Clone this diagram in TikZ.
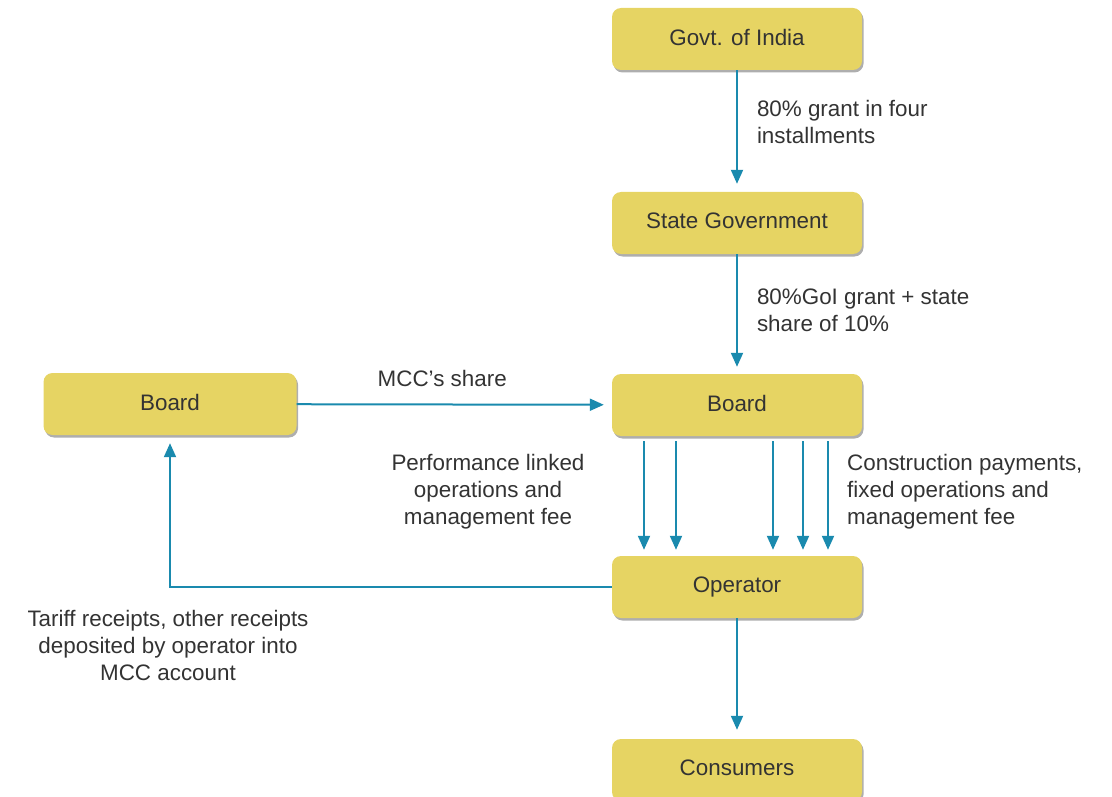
\documentclass[tikz,border=0pt]{standalone}
\usepackage{fontspec}
\setmainfont{Liberation Sans}
\usetikzlibrary{positioning}
\usetikzlibrary{arrows.meta}
\usetikzlibrary{shadows}
\definecolor{boxfill}{HTML}{E6D463}
\definecolor{flowblue}{HTML}{1A8AAE}
\definecolor{textgray}{HTML}{333333}
\tikzset{
        % Yellow boxes
        node_box/.style={rectangle, rounded corners=9pt, fill=boxfill, text=textgray,
            minimum width=250pt, minimum height=62pt, inner sep=0pt, text depth=4pt,
            drop shadow={shadow xshift=1.5pt, shadow yshift=-2.5pt, opacity=0.45, fill=black!70}},
        % Labels along the arrows
        node_label/.style={text=textgray, inner sep=0pt},
        % Money flows
        flow/.style={draw=flowblue, line width=2pt, -{Triangle[length=14pt, width=12pt]}}
}

\begin{document}
\begin{tikzpicture}[
            x=1pt, y=-1pt,
            every node/.style={font=\fontsize{22.4}{27}\selectfont}
        ]
            \useasboundingbox (0,0) rectangle (1112,797);
            \node[node_box] (govt) at (737,39) {Govt. of India};
            \node[node_box] (state) at (737,223) {State Government};
            \node[node_box] (board_right) at (737,405) {Board};
            \node[node_box, minimum width=253pt] (board_left) at (170,404) {Board};
            \node[node_box] (operator) at (737,587) {Operator};
            \node[node_box] (consumers) at (737,770) {Consumers};

            \draw[flow, shorten >=8pt] (govt) -- (state)
                node[node_label, midway, right=19pt, yshift=9pt, align=left] {80\% grant in four\\installments};
            \draw[flow, shorten >=7pt] (state) -- (board_right)
                node[node_label, midway, right=19pt, yshift=4pt, align=left] {80\%GoI grant + state\\share of 10\%};
            \draw[flow, shorten >=8pt] (board_left) -- (board_right)
                node[node_label, midway, above=17pt, xshift=-12pt] {MCC's share};

            % Payments from board to operator
            \foreach \dx in {-93,-61,36,66,91}
                \draw[flow, shorten <=5pt, shorten >=6pt] ([xshift=\dx pt]board_right.south) -- ([xshift=\dx pt]operator.north);
            \node[node_label, align=center] (perf) at (488,492) {Performance linked\\operations and\\management fee};
            \node[node_label, align=left, anchor=west] (constr) at (847,492) {Construction payments,\\fixed operations and\\management fee};

            \draw[flow, shorten >=8pt] (operator.west) -| (board_left.south);
            \node[node_label, align=center] (tariff) at (168,645) {Tariff receipts, other receipts\\deposited by operator into\\MCC account};

            \draw[flow, shorten >=9pt] (operator) -- (consumers);
        \end{tikzpicture}
\end{document}
